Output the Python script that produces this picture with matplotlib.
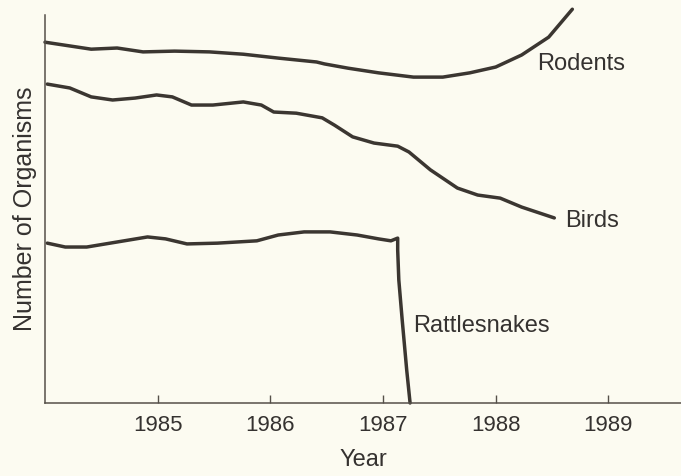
import matplotlib.pyplot as plt

# --- data (value axis is unitless, 0-100) ---
rodent_years = [1984.00, 1984.41, 1984.64, 1984.87, 1985.15, 1985.46, 1985.76,
                1986.07, 1986.41, 1986.48, 1986.69, 1986.96, 1987.27, 1987.53,
                1987.77, 1988.00, 1988.23, 1988.47, 1988.68]
rodent_counts = [93.0, 91.2, 91.5, 90.5, 90.7, 90.5, 89.9,
                 88.9, 87.9, 87.4, 86.3, 85.1, 84.0, 84.0,
                 85.1, 86.6, 89.7, 94.3, 101.5]

bird_years = [1984.02, 1984.22, 1984.41, 1984.60, 1984.80, 1984.99, 1985.13,
              1985.30, 1985.49, 1985.76, 1985.92, 1986.03, 1986.23, 1986.46,
              1986.57, 1986.73, 1986.92, 1987.13, 1987.23, 1987.42, 1987.66,
              1987.84, 1988.04, 1988.23, 1988.52]
bird_counts = [82.2, 81.2, 78.9, 78.1, 78.6, 79.4, 78.9,
               76.8, 76.8, 77.6, 76.8, 75.0, 74.7, 73.5,
               71.6, 68.6, 67.0, 66.2, 64.7, 60.1, 55.4,
               53.6, 52.8, 50.5, 47.7]

snake_years = [1984.02, 1984.18, 1984.37, 1984.64, 1984.91, 1985.07, 1985.26,
               1985.53, 1985.88, 1986.07, 1986.30, 1986.53, 1986.77, 1986.96,
               1987.07, 1987.13, 1987.13, 1987.14, 1987.17, 1987.21, 1987.24]
snake_counts = [41.2, 40.2, 40.2, 41.5, 42.8, 42.3, 41.0,
                41.2, 41.8, 43.3, 44.1, 44.1, 43.3, 42.3,
                41.8, 42.5, 39.4, 31.7, 21.4, 8.5, 0.0]

tick_years = [1985, 1986, 1987, 1988, 1989]
labels = ['Rodents', 'Birds', 'Rattlesnakes']

paper = '#fcfbf1'
ink = '#3b3631'
text_col = '#353230'

plt.rcParams['font.family'] = ['Liberation Sans', 'DejaVu Sans']

fig = plt.figure(figsize=(6.81, 4.76), dpi=100, facecolor=paper)
ax = fig.add_axes([0.0661, 0.1534, 0.934, 0.815])
ax.set_facecolor(paper)

line_kw = dict(color=ink, linewidth=2.5, solid_joinstyle='round',
               solid_capstyle='round', clip_on=False)
ax.plot(rodent_years, rodent_counts, **line_kw)
ax.plot(bird_years, bird_counts, **line_kw)
ax.plot(snake_years, snake_counts, **line_kw)

ax.text(1988.37, 87.4, labels[0], fontsize=17, color=text_col, va='center')
ax.text(1988.62, 46.9, labels[1], fontsize=17, color=text_col, va='center')
ax.text(1987.27, 19.8, labels[2], fontsize=17, color=text_col, va='center')

ax.set_xlim(1984.0, 1989.645)
ax.set_ylim(0, 100)
ax.set_xticks(tick_years)
ax.set_xticklabels([str(y) for y in tick_years])
ax.set_yticks([])
ax.tick_params(axis='x', direction='in', length=6, width=1.0, color='#555049',
               pad=9, labelsize=16, labelcolor=text_col)

for side in ['top', 'right']:
    ax.spines[side].set_visible(False)
for side in ['left', 'bottom']:
    ax.spines[side].set_color('#555049')
    ax.spines[side].set_linewidth(1.1)

ax.set_xlabel('Year', fontsize=17, color=text_col, labelpad=9)
ax.set_ylabel('Number of Organisms', fontsize=18, color=text_col, labelpad=6)

fig.savefig('out.png', dpi=100, facecolor=paper)
